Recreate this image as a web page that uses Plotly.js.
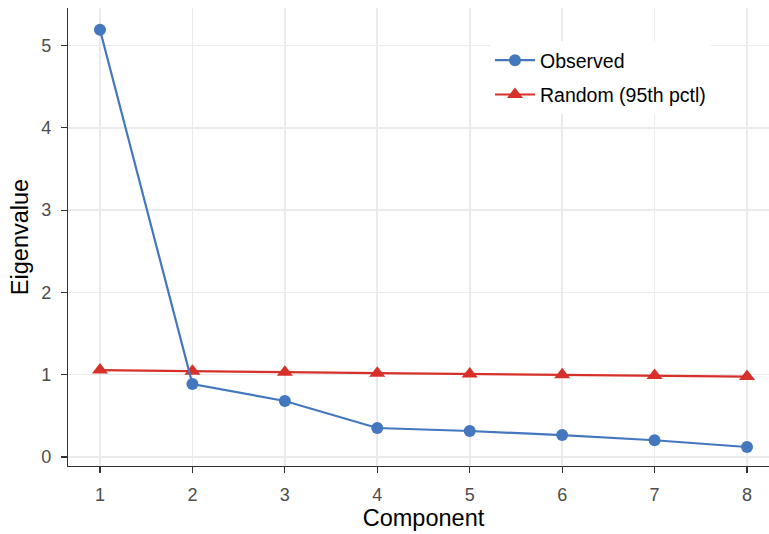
<!DOCTYPE html>
<html>
<head>
<meta charset="utf-8">
<script src="https://cdn.plot.ly/plotly-3.0.1.min.js"></script>
<style>
  html, body { margin: 0; padding: 0; background: #fff; overflow: hidden; }
  #chart { width: 780px; height: 534px; }
</style>
</head>
<body>
<div id="chart"></div>
<script>
// Parallel analysis scree plot: observed eigenvalues vs. random-data 95th percentile
const components = [1, 2, 3, 4, 5, 6, 7, 8];
const observed = [5.19, 0.885, 0.68, 0.352, 0.315, 0.266, 0.203, 0.121];
const random95 = [1.056, 1.04, 1.03, 1.018, 1.007, 0.998, 0.989, 0.977];
const xTicks = [1, 2, 3, 4, 5, 6, 7, 8];
const yTicks = [0, 1, 2, 3, 4, 5];

const blue = '#4477bd';
const red = '#d7302a';

const traces = [
  {
    x: components, y: random95, name: 'Random (95th pctl)',
    type: 'scatter', mode: 'lines+markers',
    line: { color: red, width: 2.2 },
    marker: { symbol: 'triangle-up', size: 14, color: red },
    legendgroup: 'b', legendrank: 2
  },
  {
    x: components, y: observed, name: 'Observed',
    type: 'scatter', mode: 'lines+markers',
    line: { color: blue, width: 2.2 },
    marker: { symbol: 'circle', size: 12, color: blue },
    legendgroup: 'a', legendrank: 1
  }
];

// the panel runs a little past the right edge of the window, like the
// expanded x scale (0.65 .. 8.35) it is built from
const layout = {
  width: 780, height: 534,
  margin: { l: 68, r: 1, t: 8, b: 68 },
  paper_bgcolor: '#ffffff', plot_bgcolor: '#ffffff',
  font: { family: 'Liberation Sans, Arial, sans-serif', color: '#4d4d4d' },
  showlegend: true,
  legend: {
    x: 0.5935, y: 0.928, xanchor: 'left', yanchor: 'top',
    bgcolor: '#ffffff', borderwidth: 0,
    font: { size: 19.5, color: '#000000' },
    traceorder: 'grouped', tracegroupgap: 6,
    itemwidth: 40
  },
  xaxis: {
    range: [0.654, 8.346],
    tickvals: xTicks, ticktext: xTicks.map(String),
    showgrid: true, gridcolor: '#ebebeb', gridwidth: 1.6,
    zeroline: false,
    showline: true, linecolor: '#333333', linewidth: 1.2,
    ticks: 'outside', ticklen: 6, tickcolor: '#333333', tickwidth: 1.1,
    ticklabelstandoff: 6,
    tickfont: { size: 18, color: '#4d4d4d' },
    title: { text: 'Component', font: { size: 23.5, color: '#000000' }, standoff: 5 }
  },
  yaxis: {
    range: [-0.11, 5.455],
    tickvals: yTicks, ticktext: yTicks.map(String),
    showgrid: true, gridcolor: '#ebebeb', gridwidth: 1.6,
    zeroline: false,
    showline: true, linecolor: '#333333', linewidth: 1.2,
    ticks: 'outside', ticklen: 6, tickcolor: '#333333', tickwidth: 1.1,
    ticklabelstandoff: 6,
    tickfont: { size: 18, color: '#4d4d4d' },
    title: { text: 'Eigenvalue', font: { size: 23.5, color: '#000000' }, standoff: 6 }
  }
};

Plotly.newPlot('chart', traces, layout, { displayModeBar: false, staticPlot: true });
</script>
</body>
</html>
